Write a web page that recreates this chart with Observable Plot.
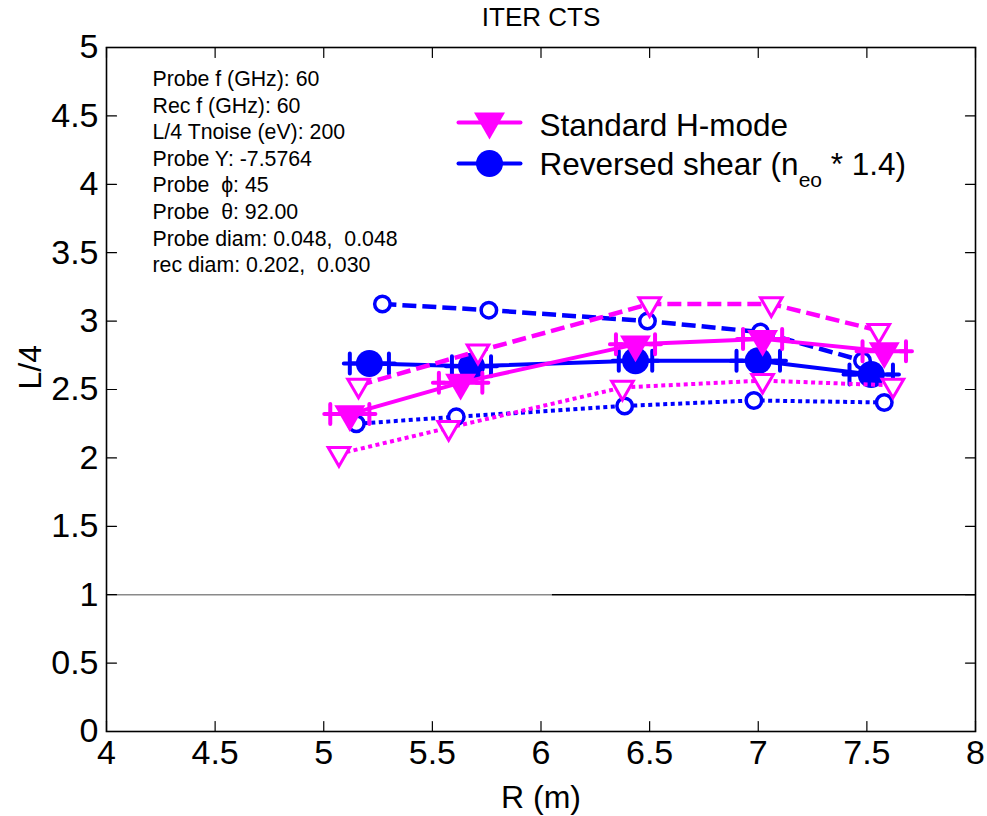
<!DOCTYPE html>
<html>
<head>
<meta charset="utf-8">
<script src="https://cdn.jsdelivr.net/npm/d3@7"></script>
<script src="https://cdn.jsdelivr.net/npm/@observablehq/plot@0.6"></script>
<style>
  html, body { margin: 0; padding: 0; background: #fff; }
  svg text { white-space: pre; }
</style>
</head>
<body>
<div id="chart"></div>
<script>
// ---- Data ----
const xTicks = [4, 4.5, 5, 5.5, 6, 6.5, 7, 7.5, 8];
const yTicks = [0, 0.5, 1, 1.5, 2, 2.5, 3, 3.5, 4, 4.5, 5];
const xDomain = [4, 8];
const yDomain = [0, 5];

// Standard H-mode (magenta)
const stdSolidR = [5.12, 5.63, 6.435, 7.02, 7.58];
const stdSolidV = [2.32, 2.55, 2.83, 2.87, 2.78];
const stdSolidErr = [0.09, 0.1, 0.09, 0.09, 0.1];
const stdDashR = [5.16, 5.71, 6.50, 7.06, 7.555];
const stdDashV = [2.53, 2.78, 3.125, 3.125, 2.93];
const stdDotR = [5.07, 5.575, 6.375, 7.02, 7.62];
const stdDotV = [2.03, 2.22, 2.515, 2.565, 2.53];

// Reversed shear (blue)
const rsSolidR = [5.21, 5.68, 6.435, 7.0, 7.52];
const rsSolidV = [2.69, 2.67, 2.71, 2.71, 2.61];
const rsSolidErr = [0.09, 0.09, 0.077, 0.1, 0.1];
const rsDashR = [5.27, 5.76, 6.49, 7.01, 7.48];
const rsDashV = [3.125, 3.08, 3.0, 2.92, 2.71];
const rsDotR = [5.15, 5.61, 6.385, 6.98, 7.58];
const rsDotV = [2.25, 2.30, 2.38, 2.42, 2.405];

// Reference level L/4 = 1 (two segments)
const refLevel = 1;
const refSegR = [4, 6.05, 8];

const titleText = "ITER CTS";
const xLabel = "R (m)";
const yLabel = "L/4";
const infoLines = [
  "Probe f (GHz): 60",
  "Rec f (GHz): 60",
  "L/4 Tnoise (eV): 200",
  "Probe Y: -7.5764",
  "Probe  \u03D5: 45",
  "Probe  \u03B8: 92.00",
  "Probe diam: 0.048,  0.048",
  "rec diam: 0.202,  0.030"
];
const legendLabels = ["Standard H-mode", "Reversed shear (neo * 1.4)"];

// ---- Build ----
const MAG = "#ff00ff";
const BLUE = "#0000ff";
const FONT = "'Liberation Sans', Arial, Helvetica, sans-serif";
const TICK_FS = 34;

const zip = (r, v, e) => r.map((x, i) => ({x, y: v[i], e: e ? e[i] : 0}));
const stdSolid = zip(stdSolidR, stdSolidV, stdSolidErr);
const stdDash = zip(stdDashR, stdDashV);
const stdDot = zip(stdDotR, stdDotV);
const rsSolid = zip(rsSolidR, rsSolidV, rsSolidErr);
const rsDash = zip(rsDashR, rsDashV);
const rsDot = zip(rsDotR, rsDotV);

const lineShape = {draw(ctx, l) { ctx.moveTo(0, 0); ctx.lineTo(0, -l); }};
const capShape = {draw(ctx, l) { ctx.moveTo(0, 0); ctx.lineTo(0, -l); ctx.moveTo(-6, -l / 2); ctx.lineTo(6, -l / 2); }};

function errMarks(data, color) {
  return [
    Plot.link(data, {x1: d => d.x - d.e, x2: d => d.x + d.e, y1: "y", y2: "y", stroke: color, strokeWidth: 4}),
    Plot.vector(data, {x: d => d.x - d.e, y: "y", length: 20, rotate: 0, anchor: "middle", shape: capShape, stroke: color, strokeWidth: 4}),
    Plot.vector(data, {x: d => d.x + d.e, y: "y", length: 20, rotate: 0, anchor: "middle", shape: capShape, stroke: color, strokeWidth: 4})
  ];
}

const DOTTED = {strokeWidth: 4, strokeDasharray: "4,3.5", strokeLinecap: "butt"};
const DASHED = {strokeWidth: 4.5, strokeDasharray: "14,6", strokeLinecap: "butt"};

const refSegs = [
  {x1: refSegR[0], x2: refSegR[1], c: "#8a8a8a"},
  {x1: refSegR[1], x2: refSegR[2], c: "#000"}
];

const chart = Plot.plot({
  width: 987,
  height: 816,
  marginLeft: 106,
  marginRight: 12,
  marginTop: 47,
  marginBottom: 85,
  style: {fontFamily: FONT, fontSize: "28px", background: "#fff", overflow: "visible"},
  x: {domain: xDomain},
  y: {domain: yDomain},
  marks: [
    // reference line at 1
    Plot.link(refSegs, {x1: "x1", x2: "x2", y1: () => refLevel, y2: () => refLevel, stroke: "c", strokeWidth: 1.6}),

    // Reversed shear (blue)
    Plot.line(rsDot, {x: "x", y: "y", stroke: BLUE, ...DOTTED}),
    Plot.dot(rsDot, {x: "x", y: "y", r: 7.75, fill: "white", stroke: BLUE, strokeWidth: 3.5}),
    Plot.line(rsDash, {x: "x", y: "y", stroke: BLUE, ...DASHED}),
    Plot.dot(rsDash, {x: "x", y: "y", r: 7.75, fill: "white", stroke: BLUE, strokeWidth: 3.5}),
    Plot.line(rsSolid, {x: "x", y: "y", stroke: BLUE, strokeWidth: 4}),
    ...errMarks(rsSolid, BLUE),
    Plot.dot(rsSolid, {x: "x", y: "y", r: 13.5, fill: BLUE}),

    // Standard H-mode (magenta)
    Plot.line(stdDot, {x: "x", y: "y", stroke: MAG, ...DOTTED}),
    Plot.dot(stdDot, {x: "x", y: "y", symbol: "triangle", rotate: 180, r: 8, fill: "white", stroke: MAG, strokeWidth: 3}),
    Plot.line(stdDash, {x: "x", y: "y", stroke: MAG, ...DASHED}),
    Plot.dot(stdDash, {x: "x", y: "y", symbol: "triangle", rotate: 180, r: 8, fill: "white", stroke: MAG, strokeWidth: 3}),
    Plot.line(stdSolid, {x: "x", y: "y", stroke: MAG, strokeWidth: 4}),
    ...errMarks(stdSolid, MAG),
    Plot.dot(stdSolid, {x: "x", y: "y", symbol: "triangle", rotate: 180, r: 11.5, fill: MAG}),

    // inward ticks
    Plot.vector(xTicks, {x: d => d, y: () => yDomain[0], length: 10, rotate: 0, anchor: "start", shape: lineShape, stroke: "black", strokeWidth: 1.2}),
    Plot.vector(xTicks, {x: d => d, y: () => yDomain[1], length: 10, rotate: 180, anchor: "start", shape: lineShape, stroke: "black", strokeWidth: 1.2}),
    Plot.vector(yTicks, {x: () => xDomain[0], y: d => d, length: 10, rotate: 90, anchor: "start", shape: lineShape, stroke: "black", strokeWidth: 1.2}),
    Plot.vector(yTicks, {x: () => xDomain[1], y: d => d, length: 10, rotate: -90, anchor: "start", shape: lineShape, stroke: "black", strokeWidth: 1.2}),

    // axes labels
    Plot.axisX({ticks: xTicks, tickFormat: d => String(d), tickSize: 0, tickPadding: 8, fontSize: TICK_FS, label: null}),
    Plot.axisY({ticks: yTicks, tickFormat: d => String(d), tickSize: 0, tickPadding: 8, fontSize: TICK_FS, label: null}),
    Plot.frame({stroke: "black", strokeWidth: 1.6}),

    // title & axis labels
    Plot.text([titleText], {text: d => d, frameAnchor: "top", lineAnchor: "middle", dy: -30, fontSize: 26}),
    Plot.text([xLabel], {text: d => d, frameAnchor: "bottom", lineAnchor: "middle", dy: 66, fontSize: 32}),
    Plot.text([yLabel], {text: d => d, frameAnchor: "left", lineAnchor: "middle", dx: -76, rotate: -90, fontSize: 32}),

    // info block
    Plot.text([infoLines.join("\n")], {text: d => d, frameAnchor: "top-left", dx: 46, dy: 19.5, lineAnchor: "top", textAnchor: "start", fontSize: 21.3, lineHeight: 1.25}),

    // legend
    Plot.vector([0], {frameAnchor: "top-left", dx: 383, dy: 75, length: 62, rotate: 90, anchor: "middle", shape: lineShape, stroke: MAG, strokeWidth: 4}),
    Plot.dot([0], {frameAnchor: "top-left", dx: 383, dy: 74, symbol: "triangle", rotate: 180, r: 11.5, fill: MAG}),
    Plot.vector([0], {frameAnchor: "top-left", dx: 383, dy: 116, length: 62, rotate: 90, anchor: "middle", shape: lineShape, stroke: BLUE, strokeWidth: 4}),
    Plot.dot([0], {frameAnchor: "top-left", dx: 383, dy: 116, r: 13.5, fill: BLUE}),
    Plot.text([legendLabels[0]], {text: d => d, frameAnchor: "top-left", lineAnchor: "middle", dx: 433, dy: 78, textAnchor: "start", fontSize: 31.5}),
    Plot.text([legendLabels[1]], {text: d => d, frameAnchor: "top-left", lineAnchor: "middle", dx: 433, dy: 117, textAnchor: "start", fontSize: 31.5})
  ]
});

// subscript in the second legend label
chart.querySelectorAll("text").forEach(t => {
  if (t.textContent === legendLabels[1]) {
    const ns = "http://www.w3.org/2000/svg";
    t.textContent = "";
    const parts = [["Reversed shear (n", null], ["eo", "sub"], [" * 1.4)", "back"]];
    for (const [s, kind] of parts) {
      const ts = document.createElementNS(ns, "tspan");
      ts.textContent = s;
      if (kind === "sub") { ts.setAttribute("font-size", "21"); ts.setAttribute("dy", "12"); }
      if (kind === "back") { ts.setAttribute("dy", "-12"); }
      t.appendChild(ts);
    }
  }
});

document.getElementById("chart").appendChild(chart);
</script>
</body>
</html>
